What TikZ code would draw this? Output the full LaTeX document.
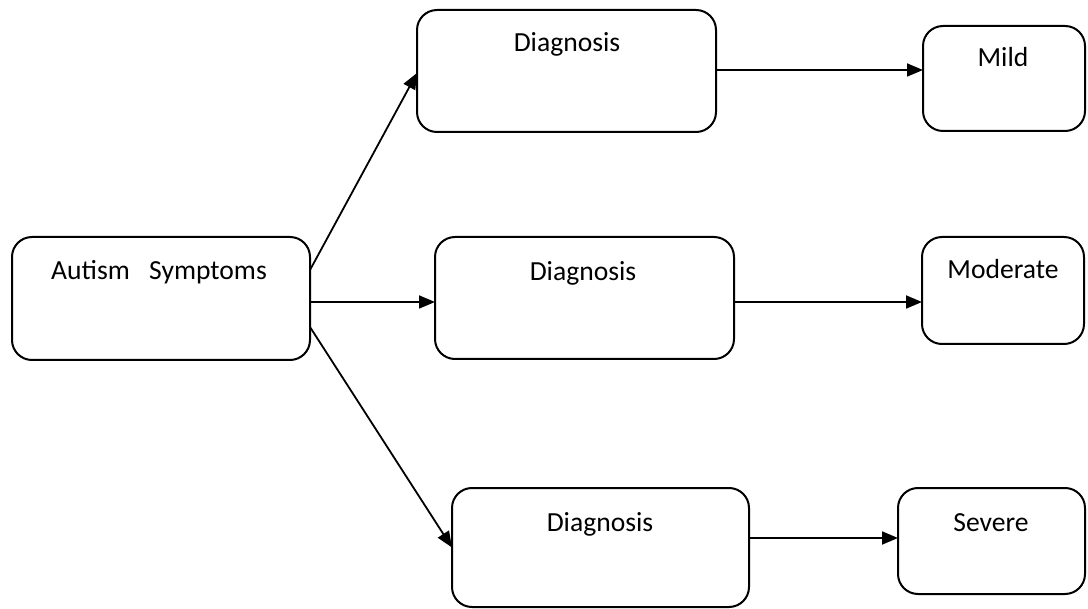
\documentclass[tikz,border=0pt]{standalone}
\usepackage{fontspec}
\setmainfont{Carlito}
\usetikzlibrary{arrows.meta}
\begin{document}
\begin{tikzpicture}[x=0.5pt,y=-0.5pt,
  box/.style={draw=black,line width=1pt,rounded corners=10pt,inner sep=0pt,outer sep=0pt},
  lbl/.style={anchor=base,inner sep=0pt,font=\fontsize{13.8}{16}\selectfont},
  conn/.style={line width=0.9pt,-{Triangle[length=8pt,width=6.5pt]}}]
\useasboundingbox (0,0) rectangle (1088,609);
% boxes
\node[box,minimum width=149pt,minimum height=61.5pt] (A) at (161,298.5) {};
\node[box,minimum width=149.5pt,minimum height=61pt] (D1) at (566.5,71) {};
\node[box,minimum width=149.5pt,minimum height=61pt] (D2) at (584.5,298) {};
\node[box,minimum width=148.5pt,minimum height=59.5pt] (D3) at (600.5,547.5) {};
\node[box,minimum width=81pt,minimum height=52.5pt] (M1) at (1004,78.5) {};
\node[box,minimum width=81pt,minimum height=53.5pt] (M2) at (1003,290.5) {};
\node[box,minimum width=93.5pt,minimum height=53pt] (M3) at (991.5,541) {};
% labels
\node[lbl] (tA) at (159,280) {Autism\hspace{0.7em}Symptoms};
\node[lbl] (t1) at (567,52) {Diagnosis};
\node[lbl] (t2) at (583,281) {Diagnosis};
\node[lbl] (t3) at (600,531) {Diagnosis};
\node[lbl] (tM1) at (1003,67) {Mild};
\node[lbl] (tM2) at (1003,279) {Moderate};
\node[lbl] (tM3) at (991,531) {Severe};
% connectors
\draw[conn] ([yshift=14.25pt]A.east) -- ([yshift=-1pt]D1.west);
\draw[conn] ([yshift=-1.75pt]A.east) -- ([yshift=-2pt]D2.west);
\draw[conn] ([yshift=-14.25pt]A.east) -- (D3.west);
\draw[conn] ([yshift=0.5pt]D1.east) -- ([yshift=4.25pt]M1.west);
\draw[conn] ([yshift=-2pt]D2.east) -- ([yshift=-5.75pt]M2.west);
\draw[conn] ([yshift=4.75pt]D3.east) -- ([yshift=1.5pt]M3.west);
\end{tikzpicture}
\end{document}
